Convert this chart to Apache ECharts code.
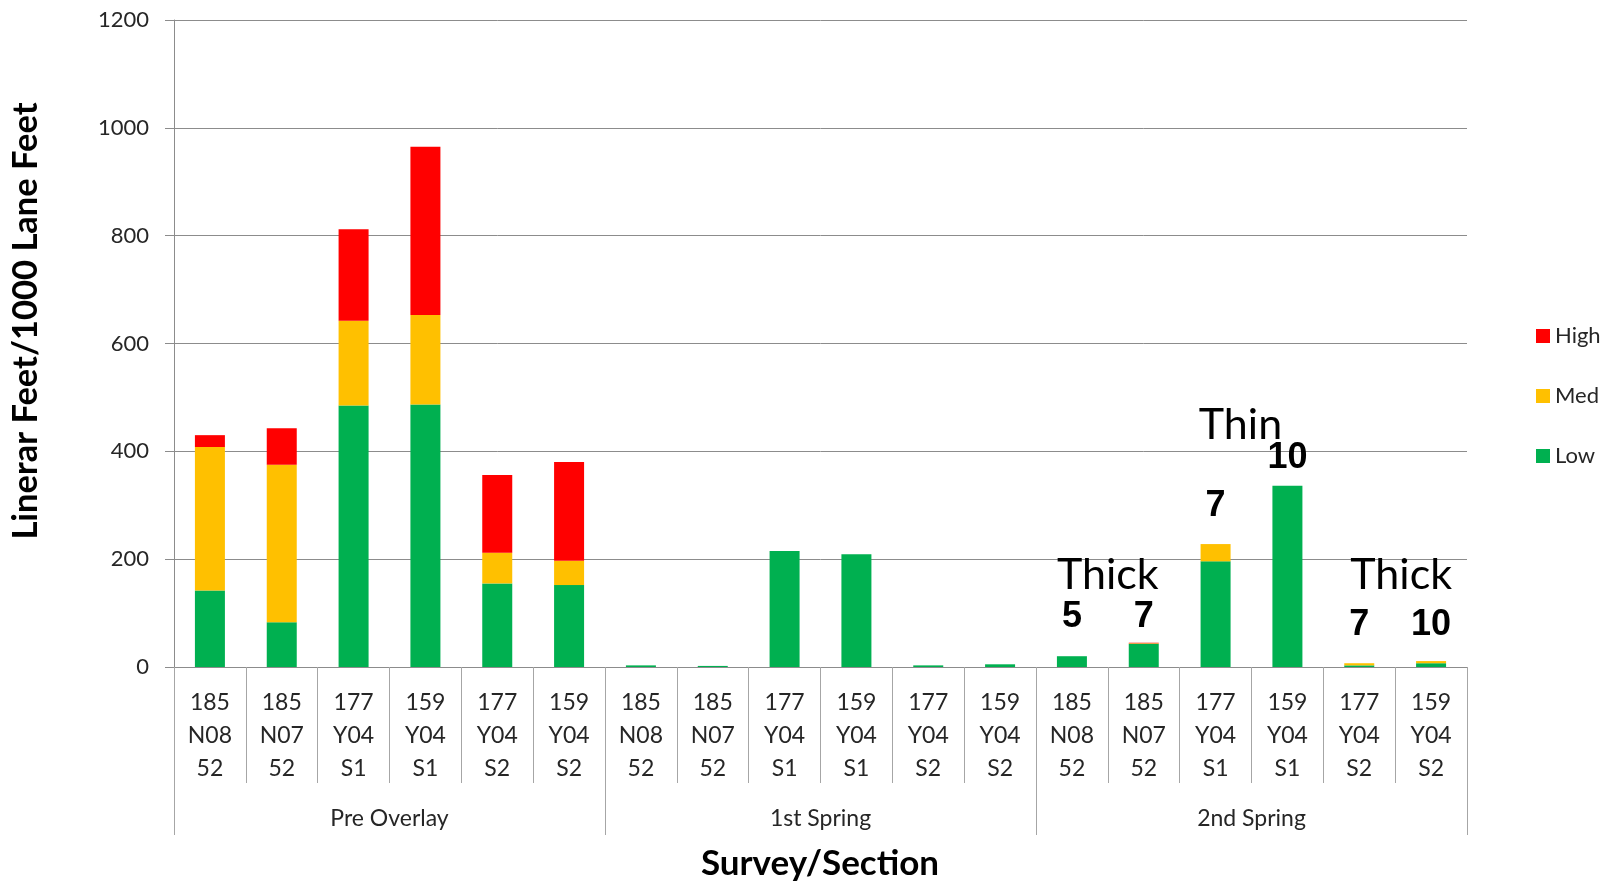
<!DOCTYPE html>
<html>
<head>
<meta charset="utf-8">
<script src="https://cdn.jsdelivr.net/npm/echarts@6/dist/echarts.min.js"></script>
<style>
  html, body { margin: 0; padding: 0; background: #ffffff; }
  #chart { width: 1616px; height: 882px; }
</style>
</head>
<body>
<div id="chart"></div>
<script>
// Sections surveyed in each pass (highway / route / lane)
const sections = [
  '185\nN08\n52', '185\nN07\n52', '177\nY04\nS1', '159\nY04\nS1', '177\nY04\nS2', '159\nY04\nS2',
  '185\nN08\n52', '185\nN07\n52', '177\nY04\nS1', '159\nY04\nS1', '177\nY04\nS2', '159\nY04\nS2',
  '185\nN08\n52', '185\nN07\n52', '177\nY04\nS1', '159\nY04\nS1', '177\nY04\nS2', '159\nY04\nS2'
];
const surveys = ['Pre Overlay', '1st Spring', '2nd Spring'];

// Cracking, linear feet per 1000 lane feet, by severity
const lowValues  = [142, 83, 485, 487, 155, 152,  3, 2, 215, 209, 3, 5,  20, 43, 196, 336, 3, 7];
const medValues  = [266, 292, 157, 166, 57, 45,   0, 0, 0, 0, 0, 0,      0, 1, 32, 0, 4, 4];
const highValues = [22, 68, 170, 312, 144, 183,   0, 0, 0, 0, 0, 0,      0, 1, 0, 0, 0, 0];

const yTicks = { min: 0, max: 1200, step: 200 };

// Overlay thickness notes on the 2nd Spring sections
const thicknessText   = ['', '', '', '', '', '', '', '', '', '', '', '', '5', '7', '7', '10', '7', '10'];
const thicknessHeight = [0, 0, 0, 0, 0, 0, 0, 0, 0, 0, 0, 0, 93, 93, 298, 387, 78, 78];
const overlayNotes = [
  { text: 'Thick', first: 12, last: 13, height: 170 },
  { text: 'Thin',  first: 14, last: 15, height: 449 },
  { text: 'Thick', first: 16, last: 17, height: 170 }
];

const textFont = 'Lato, "Open Sans", sans-serif';
const gridGray = '#8c8c8c';
// small horizontal nudges for the overlay notes, in pixels
const noteNudge = [0, -11, 6];

const chart = echarts.init(document.getElementById('chart'), null, { renderer: 'canvas' });

const thicknessPoints = thicknessText
  .map((t, i) => ({ name: t, value: [i, thicknessHeight[i]] }))
  .filter(d => d.name !== '');

chart.setOption({
  backgroundColor: '#ffffff',
  animation: false,
  grid: { left: 174, right: 149, top: 20, bottom: 215, containLabel: false },
  legend: {
    orient: 'vertical',
    left: 1531,
    top: 319,
    itemWidth: 14,
    itemHeight: 14,
    itemGap: 36,
    icon: 'rect',
    data: ['High', 'Med', 'Low'],
    textStyle: { fontFamily: textFont, fontSize: 22, lineHeight: 24, color: '#262626' }
  },
  xAxis: [
    {
      type: 'category',
      data: sections,
      position: 'bottom',
      axisLine: { show: true, lineStyle: { color: gridGray, width: 1 } },
      axisTick: { show: true, interval: 0, length: 116, lineStyle: { color: '#a6a6a6', width: 1 } },
      axisLabel: {
        interval: 0, margin: 19, fontFamily: textFont, fontSize: 23, lineHeight: 33,
        color: '#262626'
      }
    },
    {
      type: 'category',
      data: surveys,
      position: 'bottom',
      axisLine: { show: false },
      axisTick: { show: true, interval: 0, length: 168, lineStyle: { color: '#a6a6a6', width: 1 } },
      axisLabel: { interval: 0, margin: 140, fontFamily: textFont, fontSize: 23, color: '#262626' }
    }
  ],
  yAxis: {
    type: 'value',
    min: yTicks.min,
    max: yTicks.max,
    interval: yTicks.step,
    axisLine: { show: true, lineStyle: { color: gridGray, width: 1 } },
    axisTick: { show: true, length: 9, lineStyle: { color: gridGray } },
    splitLine: { show: true, lineStyle: { color: gridGray, width: 1 } },
    axisLabel: {
      margin: 25, fontFamily: textFont, fontSize: 22, color: '#262626',
      formatter: v => String(v)
    }
  },
  series: [
    { name: 'Low',  type: 'bar', stack: 'total', data: lowValues,  barWidth: 30, itemStyle: { color: '#00B050' } },
    { name: 'Med',  type: 'bar', stack: 'total', data: medValues,  barWidth: 30, itemStyle: { color: '#FFC000' } },
    { name: 'High', type: 'bar', stack: 'total', data: highValues, barWidth: 30, itemStyle: { color: '#FF0000' } },
    {
      name: 'thickness',
      type: 'scatter',
      symbolSize: 0,
      silent: true,
      itemStyle: { opacity: 1 },
      data: thicknessPoints,
      label: {
        show: true, position: 'inside', formatter: '{b}', opacity: 1,
        fontFamily: '"Liberation Sans", Arial, sans-serif', fontWeight: 'bold', fontSize: 36, color: '#000000'
      }
    }
  ]
});

// Rotated and centred titles plus the overlay notes, placed from the axis scale
const notes = overlayNotes.map((n, k) => {
  const a = chart.convertToPixel({ xAxisIndex: 0, yAxisIndex: 0 }, [n.first, n.height]);
  const b = chart.convertToPixel({ xAxisIndex: 0, yAxisIndex: 0 }, [n.last, n.height]);
  return {
    type: 'text',
    x: (a[0] + b[0]) / 2 + noteNudge[k],
    y: a[1],
    silent: true,
    style: {
      text: n.text, fontFamily: textFont, fontSize: 43, fill: '#000000',
      textAlign: 'center', textVerticalAlign: 'middle'
    }
  };
});

chart.setOption({
  graphic: [
    {
      type: 'text',
      x: 26,
      y: 321,
      rotation: Math.PI / 2,
      style: {
        text: 'Linerar Feet/1000 Lane Feet', fontFamily: textFont, fontWeight: 'bold',
        fontSize: 34.5, fill: '#000000', textAlign: 'center', textVerticalAlign: 'middle'
      }
    },
    {
      type: 'text',
      x: 820,
      y: 864,
      style: {
        text: 'Survey/Section', fontFamily: textFont, fontWeight: 'bold',
        fontSize: 35, fill: '#000000', textAlign: 'center', textVerticalAlign: 'middle'
      }
    }
  ].concat(notes)
});
</script>
</body>
</html>
